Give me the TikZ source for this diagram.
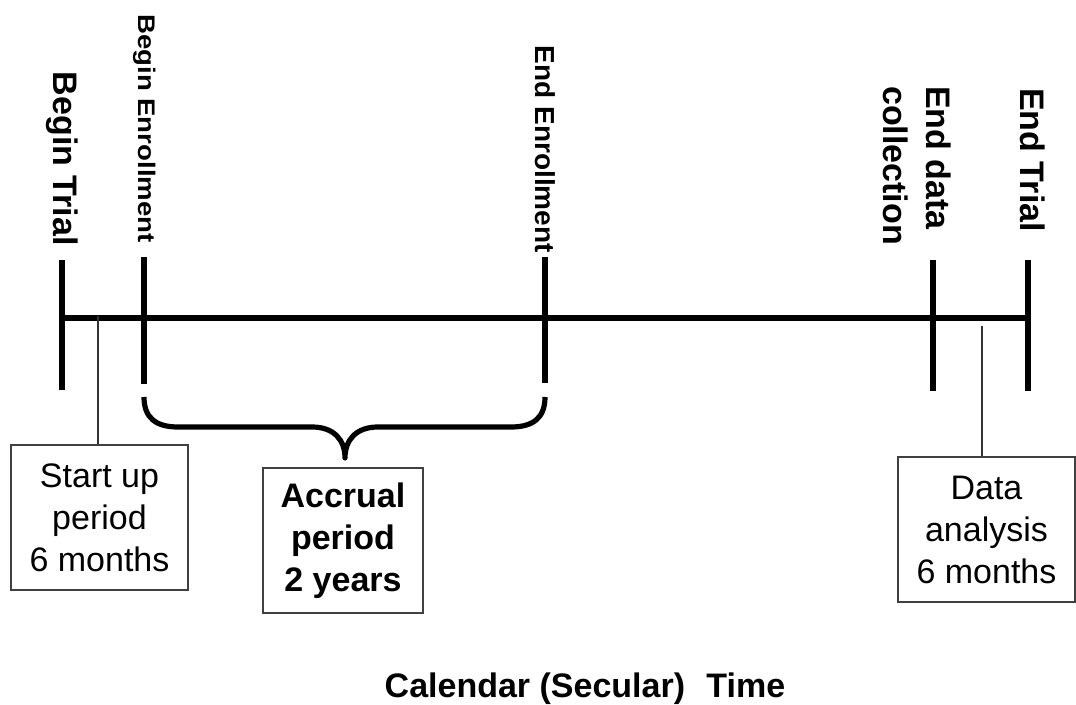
\documentclass[tikz,border=0pt]{standalone}
\usepackage{fontspec}
\setmainfont{Liberation Sans}
\usepackage{graphicx}
\begin{document}
\begin{tikzpicture}[x=0.75pt,y=-0.75pt,
  tl/.style={line width=3.9pt},
  thinl/.style={line width=1.1pt,black!80},
  pbox/.style={draw=black!75,line width=1.1pt,inner sep=0pt,align=center,
    font=\fontsize{25.5pt}{31.5pt}\selectfont},
  vlab/.style={rotate=-90,inner sep=0pt,font=\bfseries\fontsize{25.5pt}{32pt}\selectfont}]
\useasboundingbox (0,0) rectangle (1076,705);

% main time axis
\coordinate (L) at (62,318);
\coordinate (R) at (1028,318);
\draw[tl] (L) -- (R);

% ticks
\draw[tl] (62,260) -- (62,390);
\draw[tl] (144,257) -- (144,384);
\draw[tl] (545,257) -- (545,383);
\draw[tl] (933,260) -- (933,391);
\draw[tl] (1028,260) -- (1028,391);

% tick labels
\node[vlab,anchor=east] (bt) at (62,246) {Begin Trial};
\node[rotate=-90,inner sep=0pt,anchor=east,font=\bfseries\fontsize{18pt}{20pt}\selectfont] (be) at (145,243) {\scalebox{1.15}[1]{Begin Enrollment}};
\node[rotate=-90,inner sep=0pt,anchor=east,font=\bfseries\fontsize{20.6pt}{22pt}\selectfont] (ee) at (545,253) {\scalebox{1.02}[1]{End Enrollment}};
\node[vlab,anchor=west,align=left] (edc) at (917,86) {End data\\collection};
\node[vlab,anchor=west] (et) at (1033,88) {End Trial};

% brace
\draw[tl,line join=round] (144,397) .. controls (144,418) and (156,427) .. (178,427)
  -- (312,427) .. controls (334,427) and (345,440) .. (345,458)
  .. controls (345,440) and (356,427) .. (378,427)
  -- (511,427) .. controls (533,427) and (545,418) .. (545,397);
\coordinate (tip) at (345,458);

% boxes
\node[pbox,minimum width=132.75pt,minimum height=108.75pt] (sbox) at (99.5,517.5)
  {Start up\\period\\6 months};
\node[pbox,minimum width=120pt,minimum height=108.75pt,font=\bfseries\fontsize{25.5pt}{31.5pt}\selectfont] (abox) at (343,540.5)
  {Accrual\\period\\2 years};
\node[pbox,minimum width=132.75pt,minimum height=108.75pt] (dbox) at (986.5,529.5)
  {Data\\analysis\\6 months};

% connectors
\coordinate (su) at (98,316);
\draw[thinl] (su) -- (su |- sbox.north);
\coordinate (da) at (982,326);
\draw[thinl] (da) -- (da |- dbox.north);

% axis title
\node[anchor=base,inner sep=0pt,font=\bfseries\fontsize{25.5pt}{30pt}\selectfont] (title) at (585,698)
  {Calendar (Secular)\hspace{0.35em} Time};
\end{tikzpicture}
\end{document}
